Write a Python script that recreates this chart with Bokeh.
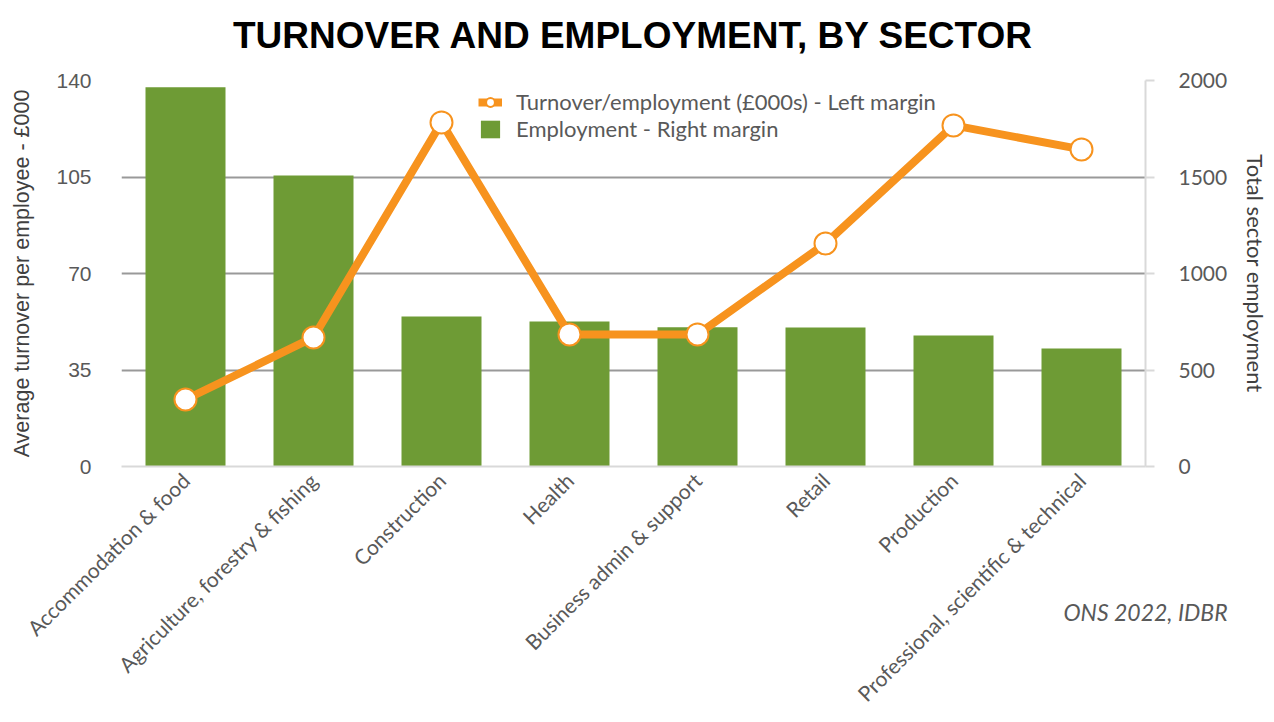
from math import pi
from bokeh.plotting import figure
from bokeh.models import (Range1d, LinearAxis, CategoricalAxis, FixedTicker, Legend,
                          LegendItem, ColumnDataSource)
from bokeh.embed import file_html
from bokeh.resources import INLINE

sectors = ["Accommodation & food", "Agriculture, forestry & fishing", "Construction",
           "Health", "Business admin & support", "Retail", "Production",
           "Professional, scientific & technical"]
employment = [1965, 1508, 777, 751, 722, 720, 679, 611]
turnover_per_emp = [24.3, 46.8, 124.8, 47.9, 47.9, 80.9, 123.7, 115.0]
left_ticks = [0, 35, 70, 105, 140]
right_ticks = [0, 500, 1000, 1500, 2000]
title_text = "TURNOVER AND EMPLOYMENT, BY SECTOR"
source_note = "ONS 2022, IDBR"

ORANGE = "#F7931E"
GREEN = "#6E9B35"
GREY = "#595959"

W, H = 1272, 720
src = ColumnDataSource(dict(sector=sectors, emp=employment, tpe=turnover_per_emp))

p = figure(x_range=sectors, y_range=Range1d(0, 140), width=W, height=H,
           output_backend="svg", toolbar_location=None,
           min_border_left=121, min_border_right=W - 1145, min_border_top=80,
           min_border_bottom=H - 466)
p.extra_y_ranges = {"emp": Range1d(0, 2000)}

xa = p.below[0]
ya = p.left[0]

p.outline_line_color = None
p.xgrid.grid_line_color = None
p.ygrid.ticker = FixedTicker(ticks=left_ticks)
p.ygrid.grid_line_color = "#999999"
p.ygrid.grid_line_width = 2

bars = p.vbar(x="sector", top="emp", width=0.625, source=src, y_range_name="emp",
              fill_color=GREEN, line_color=None)
line = p.line(x="sector", y="tpe", source=src, line_color=ORANGE, line_width=8)
dots = p.scatter(x="sector", y="tpe", source=src, size=22, fill_color="white",
                 line_color=ORANGE, line_width=2)

# title carried by a label-less axis above the frame
ta = CategoricalAxis(axis_label=title_text)
ta.axis_line_color = None
ta.major_tick_line_color = None
ta.minor_tick_line_color = None
ta.major_tick_in = 0
ta.major_tick_out = 0
ta.major_label_standoff = 0
ta.major_label_text_font_size = "0px"
ta.major_label_text_alpha = 0
ta.axis_label_text_font = "Liberation Sans"
ta.axis_label_text_font_size = "37px"
ta.axis_label_text_font_style = "bold"
ta.axis_label_text_color = "#000000"
ta.axis_label_standoff = 25
p.add_layout(ta, "above")

# left axis
ya.ticker = FixedTicker(ticks=left_ticks)
ya.axis_line_color = None
ya.major_tick_line_color = None
ya.minor_tick_line_color = None
ya.major_label_text_font = "Liberation Sans"
ya.major_label_text_font_size = "21px"
ya.major_label_text_color = GREY
ya.major_label_standoff = 24
ya.axis_label = "Average turnover per employee - £000"
ya.axis_label_text_font = "Liberation Sans"
ya.axis_label_text_font_size = "21.5px"
ya.axis_label_text_font_style = "normal"
ya.axis_label_text_color = "#404040"
ya.axis_label_standoff = 19

# right axis
ra = LinearAxis(y_range_name="emp", ticker=FixedTicker(ticks=right_ticks),
                axis_label="Total sector employment")
ra.axis_line_color = "#d9d9d9"
ra.axis_line_width = 2
ra.major_tick_line_color = "#d9d9d9"
ra.major_tick_line_width = 2
ra.major_tick_in = 0
ra.major_tick_out = 9
ra.minor_tick_line_color = None
ra.major_label_text_font = "Lato"
ra.major_label_text_font_size = "21px"
ra.major_label_text_color = GREY
ra.major_label_standoff = 24
ra.axis_label_text_font = "Lato"
ra.axis_label_text_font_size = "22px"
ra.axis_label_text_font_style = "normal"
ra.axis_label_text_color = "#404040"
ra.axis_label_standoff = 12
try:
    ra.axis_label_orientation = "vertical"
except Exception:
    pass
p.add_layout(ra, "right")

# x axis (its axis label carries the source note)
xa.axis_line_color = "#d9d9d9"
xa.axis_line_width = 2
xa.major_tick_line_color = None
xa.minor_tick_line_color = None
xa.major_label_orientation = pi / 4
xa.major_label_text_font = "Lato"
xa.major_label_text_font_size = "21px"
xa.major_label_text_color = GREY
xa.major_label_standoff = 4
xa.axis_label = source_note
xa.axis_label_text_font = "Lato"
xa.axis_label_text_font_size = "23px"
xa.axis_label_text_font_style = "italic"
xa.axis_label_text_color = GREY
xa.axis_label_standoff = -120
try:
    xa.axis_label_align = "end"
except Exception:
    pass

legend = Legend(items=[
    LegendItem(label="Turnover/employment (£000s) - Left margin", renderers=[line, dots]),
    LegendItem(label="Employment - Right margin", renderers=[bars]),
], location=(357, 324))
legend.border_line_color = None
legend.background_fill_alpha = 0
legend.label_text_font = "Lato"
legend.label_text_font_size = "22px"
legend.label_text_color = GREY
legend.glyph_width = 24
legend.glyph_height = 22
legend.label_standoff = 14
legend.spacing = 0
legend.padding = 0
legend.margin = 0
legend.label_height = 20
p.add_layout(legend, "center")

open("out.html", "w").write(file_html(p, INLINE))
